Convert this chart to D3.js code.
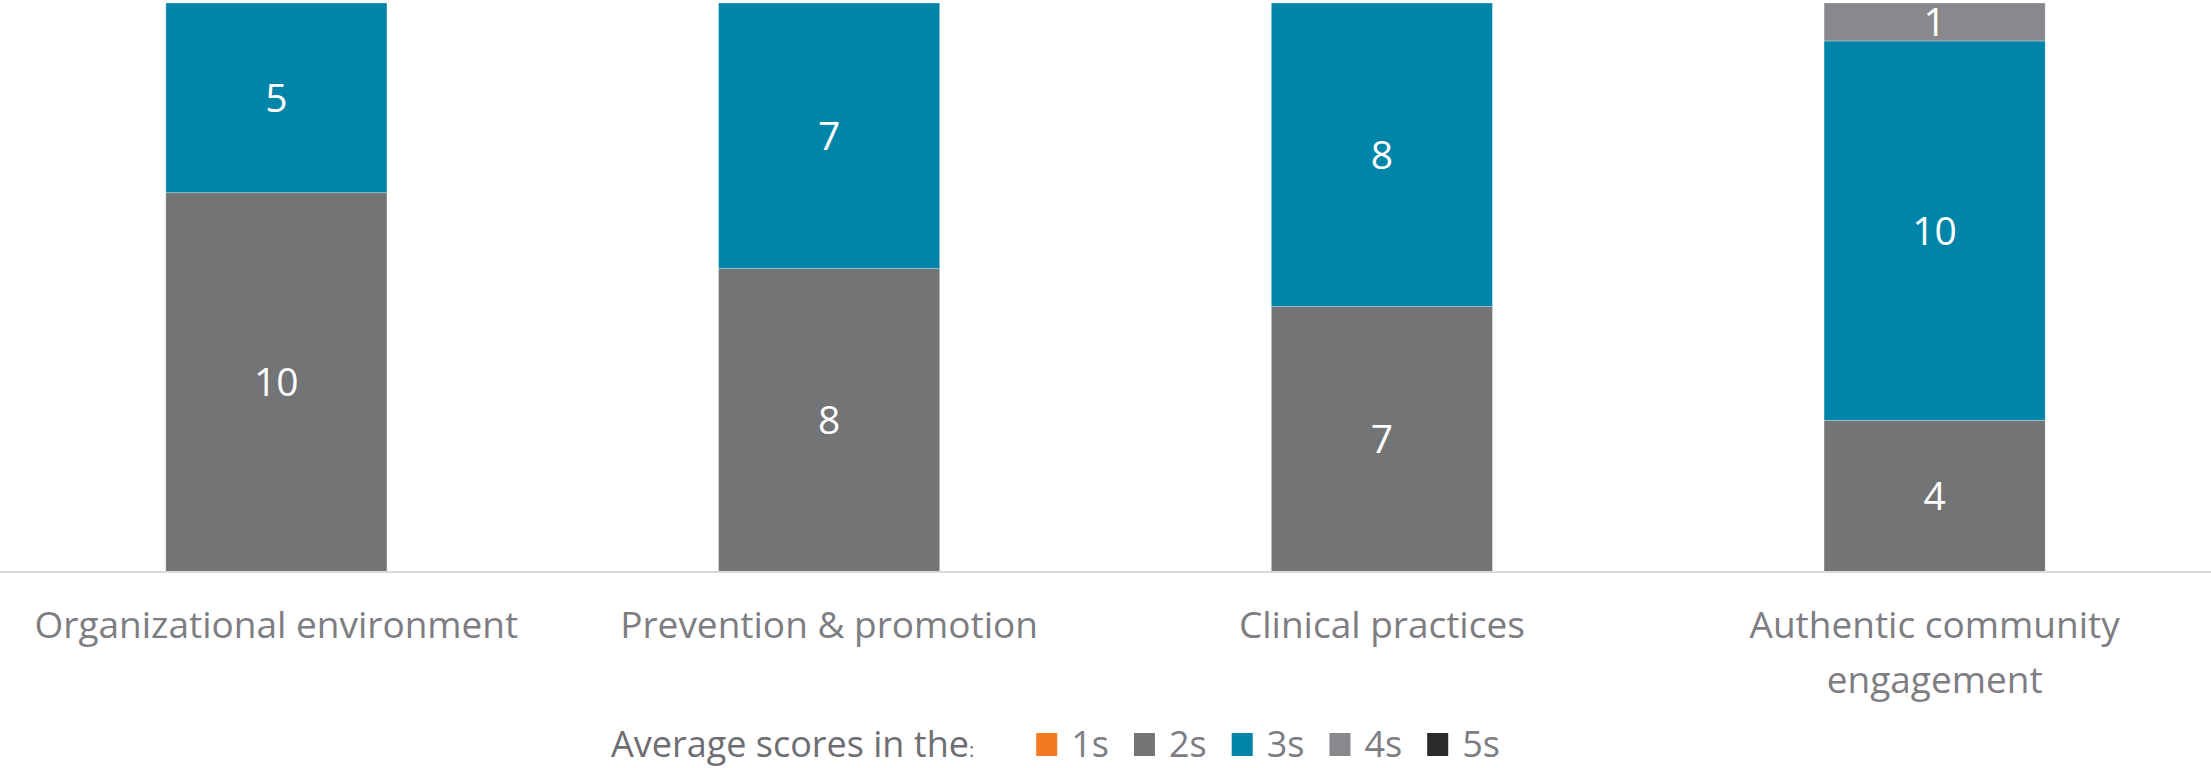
<!DOCTYPE html>
<html>
<head>
<meta charset="utf-8">
<script src="https://cdn.jsdelivr.net/npm/d3@7"></script>
<style>
  html, body { margin: 0; padding: 0; background: #fff; }
  svg { display: block; font-family: "Open Sans", "Noto Sans", sans-serif; }
</style>
</head>
<body>
<svg id="chart" width="2211" height="768"></svg>
<script>
'use strict';

// categories (label lines) and one array per series
var categories = ["Organizational environment", "Prevention & promotion", "Clinical practices", "Authentic community engagement"];
var categoryLines = [["Organizational environment"], ["Prevention & promotion"], ["Clinical practices"], ["Authentic community", "engagement"]];
var seriesNames = ["1s", "2s", "3s", "4s", "5s"];
var ones   = [0, 0, 0, 0];
var twos   = [10, 8, 7, 4];
var threes = [5, 7, 8, 10];
var fours  = [0, 0, 0, 1];
var fives  = [0, 0, 0, 0];
var seriesColors = ["#f47a20", "#737476", "#0085a9", "#88888d", "#2a2a2c"];
var legendTitle = "Average scores in the";

(function () {
    var width = 2211, height = 768;
    var top = 3, baseline = 572;

    var rows = categories.map(function (c, i) {
        return { cat: c, "1s": ones[i], "2s": twos[i], "3s": threes[i], "4s": fours[i], "5s": fives[i] };
    });

    var stack = d3.stack().keys(seriesNames);
    var layers = stack(rows);

    var x = d3.scaleBand()
        .domain(categories)
        .range([0, width])
        .paddingInner(0.6)
        .paddingOuter(0.3);

    var y = d3.scaleLinear()
        .domain([0, 15])
        .range([baseline, top]);

    var color = d3.scaleOrdinal().domain(seriesNames).range(seriesColors);

    var svg = d3.select("#chart");

    // bars
    var layerG = svg.append("g").selectAll("g")
        .data(layers)
        .join("g")
          .attr("fill", function (d) { return color(d.key); });

    layerG.selectAll("rect")
        .data(function (d) { return d.filter(function (p) { return p[1] - p[0] > 0; }); })
        .join("rect")
          .attr("x", function (d) { return x(d.data.cat); })
          .attr("y", function (d) { return y(d[1]); })
          .attr("width", x.bandwidth())
          .attr("height", function (d) { return y(d[0]) - y(d[1]); })
          .attr("stroke", "#ffffff")
          .attr("stroke-opacity", 0.35)
          .attr("stroke-width", 0.8);

    // value labels
    layerG.selectAll("text")
        .data(function (d) { return d.filter(function (p) { return p[1] - p[0] > 0; }); })
        .join("text")
          .attr("x", function (d) { return x(d.data.cat) + x.bandwidth() / 2; })
          .attr("y", function (d) { return (y(d[0]) + y(d[1])) / 2; })
          .attr("dy", "0.36em")
          .attr("text-anchor", "middle")
          .attr("fill", "#ffffff")
          .attr("font-size", 39)
          .text(function (d) { return d[1] - d[0]; });

    // baseline
    svg.append("line")
        .attr("x1", 0).attr("x2", width)
        .attr("y1", baseline).attr("y2", baseline)
        .attr("stroke", "#d9d9d9")
        .attr("stroke-width", 2);

    // category labels
    var labG = svg.append("g");
    categories.forEach(function (c, i) {
        var t = labG.append("text")
            .attr("x", x(c) + x.bandwidth() / 2)
            .attr("y", 625)
            .attr("text-anchor", "middle")
            .attr("fill", "#7d7d82")
            .attr("font-size", 37);
        categoryLines[i].forEach(function (line, j) {
            t.append("tspan")
                .attr("x", x(c) + x.bandwidth() / 2)
                .attr("dy", j === 0 ? "0.35em" : "1.49em")
                .text(line);
        });
    });

    // legend
    var leg = svg.append("g").attr("transform", "translate(611,744)");
    var title = leg.append("text")
        .attr("dy", "0.35em")
        .attr("fill", "#6e6e72")
        .attr("font-size", 36);
    title.append("tspan").text(legendTitle);
    title.append("tspan").attr("font-size", 20).text(":");

    var pos = title.node().getComputedTextLength() + 62;
    seriesNames.forEach(function (s) {
        leg.append("rect")
            .attr("x", pos).attr("y", -11)
            .attr("width", 21).attr("height", 23)
            .attr("fill", color(s));
        var t = leg.append("text")
            .attr("x", pos + 35)
            .attr("dy", "0.35em")
            .attr("fill", "#7d7d82")
            .attr("font-size", 36)
            .text(s);
        pos += 35 + t.node().getComputedTextLength() + 25;
    });
})();
</script>
</body>
</html>
